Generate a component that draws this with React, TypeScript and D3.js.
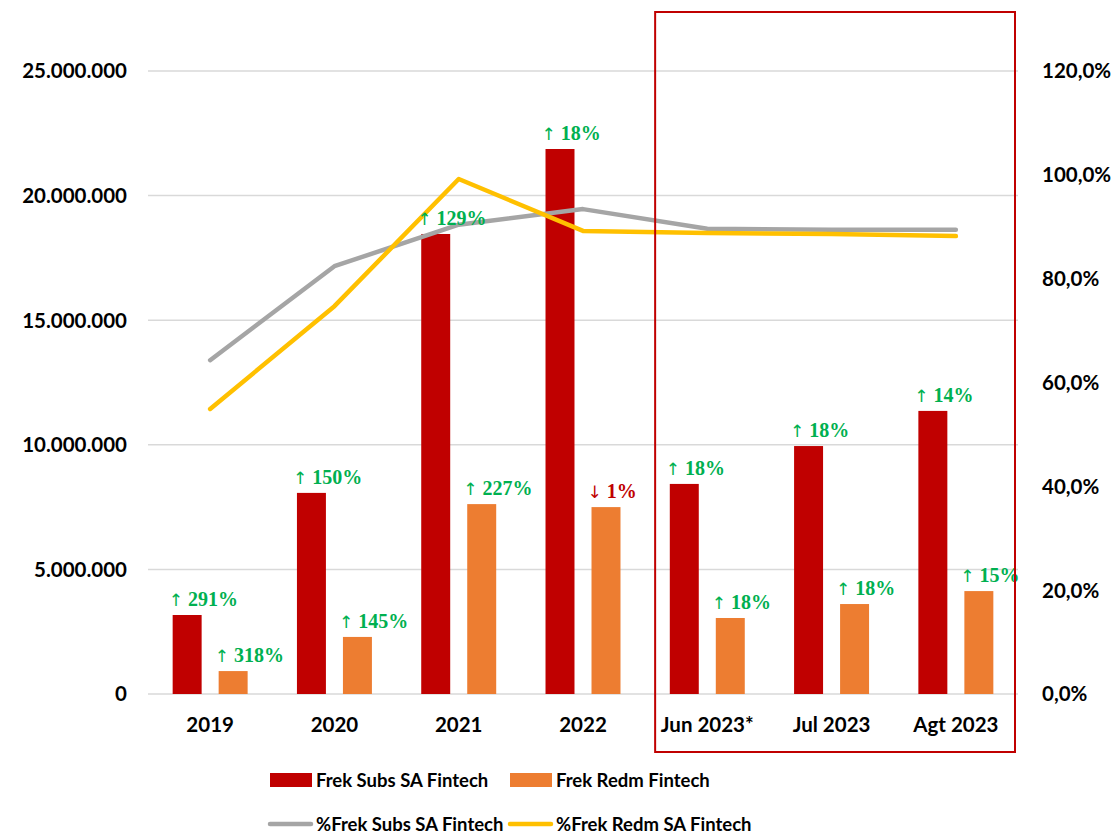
import * as d3 from "d3";

const categories = ["2019", "2020", "2021", "2022", "Jun 2023*", "Jul 2023", "Agt 2023"];
const subsValues = [3170000, 8070000, 18460000, 21870000, 8430000, 9950000, 11360000];
const redmValues = [920000, 2290000, 7620000, 7500000, 3050000, 3610000, 4130000];
const subsPct = [0.643, 0.824, 0.904, 0.934, 0.896, 0.894, 0.894];
const redmPct = [0.549, 0.747, 0.992, 0.892, 0.888, 0.886, 0.882];
const subsGrowth = ["↑ 291%", "↑ 150%", "↑ 129%", "↑ 18%", "↑ 18%", "↑ 18%", "↑ 14%"];
const redmGrowth = ["↑ 318%", "↑ 145%", "↑ 227%", "↓ 1%", "↑ 18%", "↑ 18%", "↑ 15%"];
const leftTicks = [0, 5000000, 10000000, 15000000, 20000000, 25000000];
const rightTicks = [0, 0.2, 0.4, 0.6, 0.8, 1.0, 1.2];
const highlighted = ["Jun 2023*", "Jul 2023", "Agt 2023"];

const W = 1117;
const H = 835;
const RED = "#c00000";
const ORANGE = "#ed7d31";
const GRAY = "#a5a5a5";
const YELLOW = "#ffc000";
const GREEN = "#00b050";
const FONT = "Lato, 'Open Sans', sans-serif";
const SERIF = "'Liberation Serif', 'DejaVu Serif', serif";

const locale = d3.formatLocale({ decimal: ",", thousands: ".", grouping: [3], currency: ["", ""] });
const fmtNum = locale.format(",");
const fmtPct = locale.format(".1%");

export default function App() {
  const x = d3.scaleBand().domain(categories).range([148, 1018]);
  const sub = d3.scaleBand().domain(["subs", "redm"]).range([0, x.bandwidth()]).paddingInner(0.37).paddingOuter(0.536);
  const y = d3.scaleLinear().domain([0, 25000000]).range([694, 71]);
  const yR = d3.scaleLinear().domain([0, 1.2]).range([694, 71]);
  const cx = (c: string) => (x(c) as number) + x.bandwidth() / 2;

  const line = d3.line<number>().x((_, i) => cx(categories[i])).y((d) => yR(d));

  const series = [
    { key: "subs", values: subsValues, growth: subsGrowth, color: RED },
    { key: "redm", values: redmValues, growth: redmGrowth, color: ORANGE },
  ];

  // red frame around the 2023 months
  const boxLeft = (x(highlighted[0]) as number) + 10;
  const boxRight = (x(highlighted[highlighted.length - 1]) as number) + x.bandwidth() - 3;

  return (
    <svg width={W} height={H} style={{ position: "absolute", left: 0, top: 0, background: "#fff" }}>
      {leftTicks.map((t) => (
        <g key={t}>
          <line x1={148} x2={1018} y1={y(t)} y2={y(t)} stroke="#d9d9d9" strokeWidth={1.5} />
          <text x={127} y={y(t)} dy="0.36em" textAnchor="end" fontFamily={FONT} fontWeight={700} fontSize={20.5} fill="#000">
            {fmtNum(t)}
          </text>
        </g>
      ))}
      {rightTicks.map((t) => (
        <text key={t} x={1042} y={yR(t)} dy="0.36em" textAnchor="start" fontFamily={FONT} fontWeight={700} fontSize={20.5} fill="#000">
          {fmtPct(t)}
        </text>
      ))}
      {categories.map((c) => (
        <text key={c} x={cx(c)} y={725} dy="0.36em" textAnchor="middle" fontFamily={FONT} fontWeight={700} fontSize={20.5} fill="#000">
          {c}
        </text>
      ))}
      {series.map((s) =>
        categories.map((c, i) => {
          const bx = (x(c) as number) + (sub(s.key) as number);
          return (
            <rect key={s.key + c} x={bx} y={y(s.values[i])} width={sub.bandwidth()} height={694 - y(s.values[i])} fill={s.color} />
          );
        })
      )}
      <path d={line(subsPct) || ""} fill="none" stroke={GRAY} strokeWidth={4.5} strokeLinecap="round" strokeLinejoin="round" />
      <path d={line(redmPct) || ""} fill="none" stroke={YELLOW} strokeWidth={4.5} strokeLinecap="round" strokeLinejoin="round" />
      {series.map((s) =>
        categories.map((c, i) => {
          const bx = (x(c) as number) + (sub(s.key) as number);
          const label = s.growth[i];
          const down = label.startsWith("↓");
          return (
            <text key={"l" + s.key + c} x={bx - 4} y={y(s.values[i]) - 9} fontFamily={SERIF} fontWeight={700} fontSize={20} fill={down ? RED : GREEN}>
              <tspan fontFamily="'DejaVu Sans', sans-serif" fontWeight={400} fontSize={17}>{label.slice(0, 1)}</tspan>
              {label.slice(1)}
            </text>
          );
        })
      )}
      <rect x={boxLeft} y={12} width={boxRight - boxLeft} height={740} fill="none" stroke={RED} strokeWidth={2} />
      <g fontFamily={FONT} fontWeight={700} fontSize={18.5} fill="#000">
        <rect x={270} y={773} width={42} height={14} fill={RED} />
        <text x={316} y={780} dy="0.36em">Frek Subs SA Fintech</text>
        <rect x={510} y={773} width={42} height={14} fill={ORANGE} />
        <text x={556} y={780} dy="0.36em">Frek Redm Fintech</text>
        <line x1={270} x2={311} y1={824} y2={824} stroke={GRAY} strokeWidth={4.5} strokeLinecap="round" />
        <text x={316} y={824} dy="0.36em">%Frek Subs SA Fintech</text>
        <line x1={510} x2={551} y1={824} y2={824} stroke={YELLOW} strokeWidth={4.5} strokeLinecap="round" />
        <text x={556} y={824} dy="0.36em">%Frek Redm SA Fintech</text>
      </g>
    </svg>
  );
}
